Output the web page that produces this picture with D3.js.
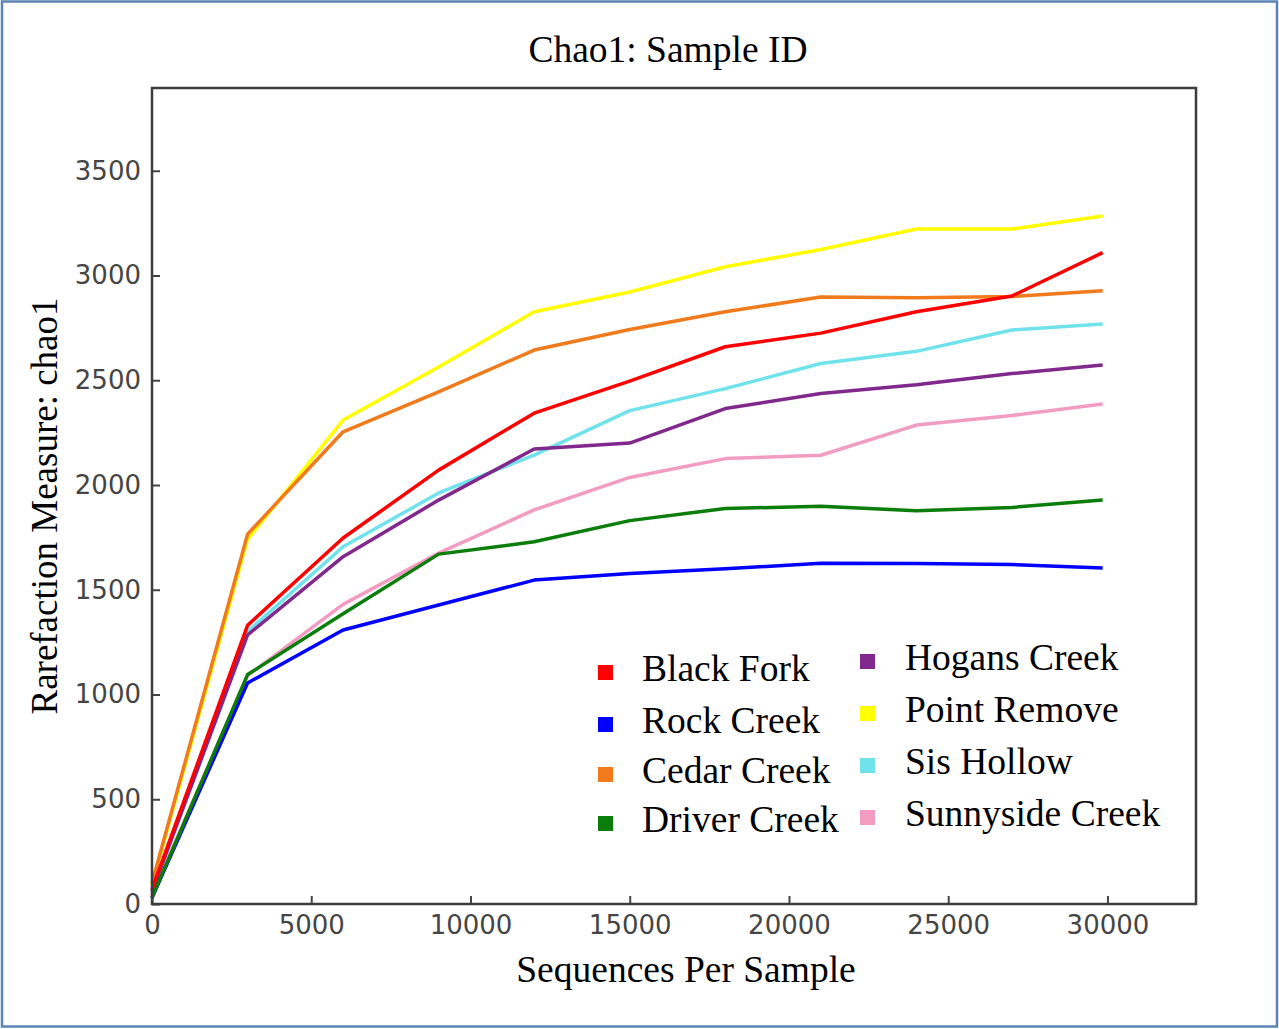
<!DOCTYPE html>
<html>
<head>
<meta charset="utf-8">
<script src="https://cdn.jsdelivr.net/npm/d3@7"></script>
<style>
  html, body { margin: 0; padding: 0; background: #fff; }
  svg { display: block; }
</style>
</head>
<body>
<svg id="chart" width="1279" height="1029"></svg>
<script>
// ---- data ----
const xValues = [0, 3000, 6000, 9000, 12000, 15000, 18000, 21000, 24000, 27000, 29850];
const seriesNames = ["Black Fork", "Rock Creek", "Cedar Creek", "Driver Creek",
                     "Hogans Creek", "Point Remove", "Sis Hollow", "Sunnyside Creek"];
const blackFork      = [70, 1330, 1747, 2071, 2343, 2496, 2660, 2725, 2827, 2902, 3109];
const rockCreek      = [30, 1055, 1308, 1427, 1546, 1578, 1600, 1626, 1625, 1620, 1604];
const cedarCreek     = [100, 1765, 2254, 2444, 2644, 2742, 2827, 2897, 2894, 2900, 2927];
const driverCreek    = [30, 1095, 1385, 1670, 1729, 1830, 1888, 1898, 1877, 1893, 1928];
const hogansCreek    = [60, 1284, 1658, 1928, 2172, 2200, 2365, 2437, 2478, 2532, 2573];
const pointRemove    = [90, 1740, 2310, 2563, 2827, 2921, 3042, 3124, 3222, 3222, 3284];
const sisHollow      = [60, 1300, 1705, 1962, 2143, 2355, 2460, 2580, 2638, 2740, 2768];
const sunnysideCreek = [40, 1090, 1430, 1675, 1881, 2036, 2126, 2142, 2286, 2332, 2387];
const seriesValues = [blackFork, rockCreek, cedarCreek, driverCreek,
                      hogansCreek, pointRemove, sisHollow, sunnysideCreek];
const seriesColors = ["#ff0000", "#0000ff", "#f07a1c", "#0a7d0a",
                      "#80288c", "#ffff00", "#70e2ec", "#f39cc2"];
const drawOrder = [5, 6, 7, 4, 2, 1, 3, 0];
const xTicks = [0, 5000, 10000, 15000, 20000, 25000, 30000];
const yTicks = [0, 500, 1000, 1500, 2000, 2500, 3000, 3500];
const titleText = "Chao1: Sample ID";
const xLabel = "Sequences Per Sample";
const yLabel = "Rarefaction Measure: chao1";

// ---- layout ----
const svg = d3.select("#chart");
const plot = { left: 152, top: 88, right: 1196, bottom: 904 };
const x = d3.scaleLinear().domain([0, 32780]).range([plot.left, plot.right]);
const y = d3.scaleLinear().domain([0, 3895]).range([plot.bottom, plot.top]);
const serif = "Liberation Serif, Times New Roman, serif";

svg.append("rect").attr("width", 1279).attr("height", 1029).attr("fill", "#fff");
// outer border
svg.append("rect")
  .attr("x", 2).attr("y", 1.5).attr("width", 1275).attr("height", 1025)
  .attr("fill", "none").attr("stroke", "#5a84b6").attr("stroke-width", 2.5);

// title
svg.append("text")
  .attr("x", 668).attr("y", 62)
  .attr("text-anchor", "middle")
  .attr("font-family", serif)
  .attr("font-size", 37.5).attr("fill", "#000")
  .text(titleText);

// axes
const tickFont = "DejaVu Sans, sans-serif";
const gx = svg.append("g").attr("transform", `translate(0,${plot.bottom})`)
  .call(d3.axisBottom(x).tickValues(xTicks).tickSize(-8).tickPadding(12).tickFormat(d3.format("d")));
const gy = svg.append("g").attr("transform", `translate(${plot.left},0)`)
  .call(d3.axisLeft(y).tickValues(yTicks).tickSize(-8).tickPadding(11).tickFormat(d3.format("d")));
[gx, gy].forEach(g => {
  g.select(".domain").remove();
  g.selectAll(".tick line").attr("stroke", "#444").attr("stroke-width", 2);
  g.selectAll(".tick text").attr("font-family", tickFont).attr("font-size", 26)
    .attr("fill", "#454545");
});

// lines
const line = d3.line().x((d, i) => x(xValues[i])).y(d => y(d));
drawOrder.forEach(k => {
  svg.append("path")
    .datum(seriesValues[k])
    .attr("d", line)
    .attr("fill", "none")
    .attr("stroke", seriesColors[k])
    .attr("stroke-width", 3.5)
    .attr("stroke-linejoin", "round");
});

// frame
svg.append("rect")
  .attr("x", plot.left).attr("y", plot.top)
  .attr("width", plot.right - plot.left).attr("height", plot.bottom - plot.top)
  .attr("fill", "none").attr("stroke", "#3c3c3c").attr("stroke-width", 2.5);

// axis labels
svg.append("text")
  .attr("x", 686).attr("y", 982)
  .attr("text-anchor", "middle")
  .attr("font-family", serif)
  .attr("font-size", 37.5).attr("fill", "#000")
  .text(xLabel);
svg.append("text")
  .attr("transform", "translate(57,506) rotate(-90)")
  .attr("text-anchor", "middle")
  .attr("font-family", serif)
  .attr("font-size", 37).attr("fill", "#000")
  .text(yLabel);

// legend
const legendCols = [
  { sx: 606, tx: 642, ys: [681, 733, 783, 832] },
  { sx: 868, tx: 905, ys: [670, 722, 774, 826] }
];
seriesNames.forEach((name, i) => {
  const col = legendCols[Math.floor(i / 4)];
  const yy = col.ys[i % 4];
  svg.append("rect")
    .attr("x", col.sx - 8).attr("y", yy - 16)
    .attr("width", 15).attr("height", 15)
    .attr("fill", seriesColors[i]);
  svg.append("text")
    .attr("x", col.tx).attr("y", yy)
    .attr("font-family", serif)
    .attr("font-size", 37.5).attr("fill", "#000")
    .text(name);
});
</script>
</body>
</html>
